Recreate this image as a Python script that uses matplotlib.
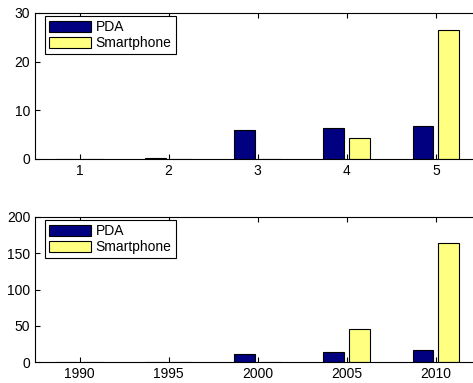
import matplotlib
matplotlib.use("Agg")
import matplotlib.pyplot as plt
import numpy as np

plt.rcParams["font.family"] = ["Liberation Sans", "DejaVu Sans"]
plt.rcParams["font.size"] = 10

# upper panel: index 1..5
idx = [1, 2, 3, 4, 5]
pda_share = [0.0, 0.15, 6.0, 6.3, 6.85]
smart_share = [0.0, 0.0, 0.0, 4.4, 26.6]

# lower panel: by year
years = [1990, 1995, 2000, 2005, 2010]
pda_units = [0.0, 0.0, 11.5, 13.8, 16.0]
smart_units = [0.0, 0.0, 0.0, 46.0, 164.0]

PDA_COLOR = "#000080"
SMART_COLOR = "#ffff80"

W, H = 473, 383
fig = plt.figure(figsize=(W / 100, H / 100), dpi=100)


def px_axes(left, top, right, bottom):
    return fig.add_axes([left / W, 1 - bottom / H, (right - left) / W, (bottom - top) / H])


def grouped_bars(ax, cats, a, b, step, ylim, yticks):
    x = np.asarray(cats, dtype=float)
    w = 0.235 * step
    off = 0.145 * step
    ax.bar(x - off, a, w, color=PDA_COLOR, edgecolor="black", linewidth=0.8, label="PDA")
    ax.bar(x + off, b, w, color=SMART_COLOR, edgecolor="black", linewidth=0.8, label="Smartphone")
    ax.set_xlim(x[0] - 0.5 * step, x[-1] + 0.5 * step)
    ax.set_ylim(*ylim)
    ax.set_xticks(cats)
    ax.set_yticks(yticks)
    ax.tick_params(direction="in", top=True, right=True, length=3.5, width=0.8, labelsize=10)
    for s in ax.spines.values():
        s.set_linewidth(0.8)
    # legend anchored a few pixels inside the upper-left corner
    bb = ax.get_position()
    ax_w = bb.width * W
    ax_h = bb.height * H
    leg = ax.legend(loc="upper left", bbox_to_anchor=(10 / ax_w, 1 - 3 / ax_h),
                    borderaxespad=0, handlelength=3.0, handleheight=0.9,
                    borderpad=0.3, labelspacing=0.15, handletextpad=0.35,
                    fancybox=False, framealpha=1, fontsize=10)
    leg.get_frame().set_edgecolor("black")
    leg.get_frame().set_linewidth(0.8)


ax1 = px_axes(35, 13, 480.5, 159)
grouped_bars(ax1, idx, pda_share, smart_share, 1, (0, 30), [0, 10, 20, 30])

ax2 = px_axes(35, 217, 480.5, 362)
grouped_bars(ax2, years, pda_units, smart_units, 5, (0, 200), [0, 50, 100, 150, 200])

fig.savefig("out.png", dpi=100)
